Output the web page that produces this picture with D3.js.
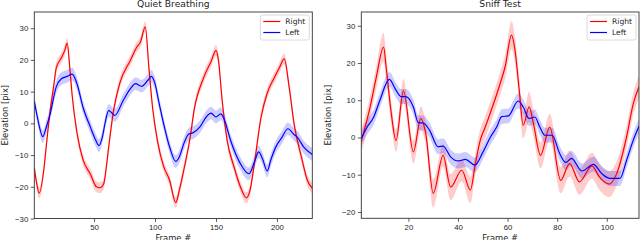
<!DOCTYPE html>
<html>
<head>
<meta charset="utf-8">
<script src="https://cdn.jsdelivr.net/npm/d3@7"></script>
<style>
  body { margin: 0; background: #fff; }
  svg { display: block; font-family: "DejaVu Sans", sans-serif; }
</style>
</head>
<body>
<svg width="640" height="240"></svg>
<script>
// Quiet Breathing - right (red)
const qbRightFrame = [1, 3, 5, 9, 11, 14, 17, 19, 23, 26, 28, 30, 32, 36, 41, 47, 52, 55, 58, 60, 62, 66, 71, 80, 85, 88, 92, 95, 98, 102, 107, 112, 117, 120, 124, 129, 132, 140, 146, 150, 152, 155, 159, 165, 170, 175, 178, 181, 187, 192, 198, 202, 206, 210, 214, 220, 225, 229];
const qbRightVal   = [-14, -19, -22, -14, -6.5, 4, 12, 17.5, 20.5, 23, 25.3, 18, 9, -3, -11.5, -16, -20, -20.3, -19, -14, -7.5, 4, 12.5, 20, 24, 25.6, 30.4, 17.5, 5, -5.5, -13.5, -18, -25, -21, -14, -4, 4, 14.5, 19.5, 23, 20, 7.5, -5, -14, -20, -23.5, -21, -14, 2, 9.5, 14.5, 17.5, 20.3, 11.5, 0, -10.5, -18, -20.5];
const qbRightSd = 1.7;

// Quiet Breathing - left (blue)
const qbLeftFrame = [1, 4, 8, 11, 14, 19, 23, 28, 32, 36, 41, 47, 51, 54, 57, 59, 62, 64, 67, 74, 80, 84, 89, 94, 97, 100, 103, 107, 112, 117, 120, 124, 128, 131, 137, 142, 146, 150, 154, 157, 162, 170, 177, 182, 185, 188, 192, 195, 199, 204, 209, 214, 217, 222, 229];
const qbLeftVal   = [7, 1, -4.2, -1, 3, 11.5, 14, 14.8, 15.5, 12.5, 5, -1.2, -5, -7, -4, 0, 4, 3.5, 2.5, 7.3, 11, 12.5, 11.7, 13.5, 14.8, 12.5, 7, 0, -7.5, -12, -10.5, -6, -3.3, -3, -1, 2, 3.2, 2, 3, 1, -5.4, -12.7, -15.9, -11.7, -9, -11, -15, -11.5, -7.5, -4.5, -1.7, -3.5, -4.5, -7.5, -9.8];
const qbLeftSd = 2.0;

// Sniff Test - right (red)
const stRightFrame = [1, 4.5, 7, 10, 11, 13, 15, 18, 22, 25, 27, 30, 34, 37, 41.5, 45, 47, 49, 51, 53, 57, 59, 61.6, 63, 64.7, 66.3, 68.7, 70.4, 73.3, 77, 81.4, 85, 89, 94, 97, 101, 104, 108, 110.7, 113];
const stRightVal   = [-1, 8, 16, 24.3, 19, 7, -0.8, 12.5, -3.9, 5.1, 1, -15, -4.8, -13.3, -8.8, -14.1, -7, -0.7, 2.8, 6.5, 14.5, 19, 27.5, 23.4, 12.7, 3.3, 8.2, 3.8, -4.8, 2.8, -11.5, -7, -11.9, -7.6, -10.6, -12.5, -9.7, 0.2, 9.1, 13.6];
const stRightSd    = [3, 3, 3, 3.8, 3.5, 3, 3, 3.2, 3, 3.2, 3, 3.8, 3, 3.5, 3, 3.5, 3, 3, 3, 3, 3, 3.2, 3.8, 3.5, 3.5, 3.5, 4, 3.5, 3.5, 3.5, 3.5, 3.5, 3.5, 3.5, 3.5, 3.5, 3.2, 3, 3, 3];

// Sniff Test - left (blue)
const stLeftFrame = [1, 3, 6, 8.5, 12.3, 15, 17, 19, 22, 24, 26, 28.5, 32, 34, 37, 40, 43, 46.8, 50, 53, 55.6, 57.6, 60.3, 64.3, 66.3, 68.7, 71, 73, 75, 78, 81, 83.5, 85.8, 90, 94.6, 98, 101.3, 105.3, 108, 110.7, 113];
const stLeftVal   = [-0.3, 2.4, 5.5, 10, 15.6, 12.7, 11, 11, 8.2, 4, 3.9, 2, -2.5, -2.3, -5.2, -6.3, -5.9, -7.4, -4, 0, 2.8, 5.6, 5.8, 9.8, 8.2, 5.1, 5.5, 2.8, 0.6, 0.6, -4.3, -6.7, -5.6, -9, -7.2, -9.7, -11, -11, -6.1, -0.7, 3];
const stLeftSd = 2.0;

const xTicksQB = [50, 100, 150, 200];
const yTicksQB = [-30, -20, -10, 0, 10, 20, 30];
const xTicksST = [20, 40, 60, 80, 100];
const yTicksST = [-20, -10, 0, 10, 20, 30];

const svg = d3.select("svg");

function toPoints(frames, vals, sd) {
  return frames.map((f, i) => ({
    f: f,
    v: vals[i],
    s: Array.isArray(sd) ? sd[i] : sd
  }));
}

function drawPanel(opt) {
  const x = d3.scaleLinear().domain(opt.xDomain).range([opt.left, opt.right]);
  const y = d3.scaleLinear().domain(opt.yDomain).range([opt.bottom, opt.top]);
  const g = svg.append("g");

  const clipId = "clip-" + opt.id;
  g.append("clipPath").attr("id", clipId)
    .append("rect")
    .attr("x", opt.left).attr("y", opt.top)
    .attr("width", opt.right - opt.left).attr("height", opt.bottom - opt.top);

  const plot = g.append("g").attr("clip-path", "url(#" + clipId + ")");

  const area = d3.area()
    .x(d => x(d.f))
    .y0(d => y(d.v - d.s))
    .y1(d => y(d.v + d.s))
    .curve(d3.curveMonotoneX);
  const line = d3.line()
    .x(d => x(d.f))
    .y(d => y(d.v))
    .curve(d3.curveMonotoneX);

  // bandas primero, despues las lineas
  opt.series.forEach(s => {
    plot.append("path")
      .attr("d", area(s.data))
      .attr("fill", s.color)
      .attr("fill-opacity", 0.2);
  });
  opt.series.forEach(s => {
    plot.append("path")
      .attr("d", line(s.data))
      .attr("fill", "none")
      .attr("stroke", s.color)
      .attr("stroke-width", 1.2);
  });

  // ejes
  const xAxis = g.append("g")
    .attr("transform", "translate(0," + opt.bottom + ")")
    .call(d3.axisBottom(x).tickValues(opt.xTicks).tickSize(3.5).tickPadding(2.5));
  const yAxis = g.append("g")
    .attr("transform", "translate(" + opt.left + ",0)")
    .call(d3.axisLeft(y).tickValues(opt.yTicks).tickSize(3.5).tickPadding(2.5)
      .tickFormat(d => d < 0 ? "\u2212" + Math.abs(d) : d));
  [xAxis, yAxis].forEach(a => {
    a.select(".domain").remove();
    a.selectAll("line").attr("stroke", "#333").attr("stroke-width", 0.8);
    a.selectAll("text").attr("fill", "#262626").style("font-size", "7.8px");
  });

  // marco
  g.append("rect")
    .attr("x", opt.left).attr("y", opt.top)
    .attr("width", opt.right - opt.left).attr("height", opt.bottom - opt.top)
    .attr("fill", "none").attr("stroke", "#333").attr("stroke-width", 0.9);

  const cx = (opt.left + opt.right) / 2;
  g.append("text")
    .attr("x", cx).attr("y", 7)
    .attr("text-anchor", "middle")
    .attr("fill", "#262626")
    .style("font-size", "9.2px")
    .text(opt.title);
  g.append("text")
    .attr("x", cx).attr("y", 240.5)
    .attr("text-anchor", "middle")
    .attr("fill", "#262626")
    .style("font-size", "8.4px")
    .text("Frame #");
  g.append("text")
    .attr("transform", "translate(" + opt.yLabelX + "," + ((opt.top + opt.bottom) / 2) + ") rotate(-90)")
    .attr("text-anchor", "middle")
    .attr("fill", "#262626")
    .style("font-size", "8.4px")
    .text("Elevation [pix]");

  // leyenda
  const lx = opt.right - 52, ly = opt.top + 3;
  const leg = g.append("g").attr("transform", "translate(" + lx + "," + ly + ")");
  leg.append("rect")
    .attr("x", 0).attr("y", 0).attr("width", 49).attr("height", 25)
    .attr("rx", 2)
    .attr("fill", "#fff").attr("fill-opacity", 0.85)
    .attr("stroke", "#d0d0d0").attr("stroke-width", 0.8);
  opt.series.forEach((s, i) => {
    const yy = 6.5 + i * 11;
    leg.append("line")
      .attr("x1", 3).attr("x2", 20).attr("y1", yy).attr("y2", yy)
      .attr("stroke", s.color).attr("stroke-width", 1.2);
    leg.append("text")
      .attr("x", 25).attr("y", yy + 2.7)
      .attr("fill", "#262626")
      .style("font-size", "7.6px")
      .text(s.name);
  });
}

drawPanel({
  id: "qb", title: "Quiet Breathing",
  left: 34.3, right: 312.3, top: 12, bottom: 218.5, yLabelX: 8,
  xDomain: [1, 229], yDomain: [-30, 35.1],
  xTicks: xTicksQB, yTicks: yTicksQB,
  series: [
    { name: "Right", color: "#ff0000", data: toPoints(qbRightFrame, qbRightVal, qbRightSd) },
    { name: "Left", color: "#0000ff", data: toPoints(qbLeftFrame, qbLeftVal, qbLeftSd) }
  ]
});

drawPanel({
  id: "st", title: "Sniff Test",
  left: 361.3, right: 639, top: 12, bottom: 218.3, yLabelX: 331,
  xDomain: [1, 113], yDomain: [-21.7, 33.7],
  xTicks: xTicksST, yTicks: yTicksST,
  series: [
    { name: "Right", color: "#ff0000", data: toPoints(stRightFrame, stRightVal, stRightSd) },
    { name: "Left", color: "#0000ff", data: toPoints(stLeftFrame, stLeftVal, stLeftSd) }
  ]
});
</script>
</body>
</html>
